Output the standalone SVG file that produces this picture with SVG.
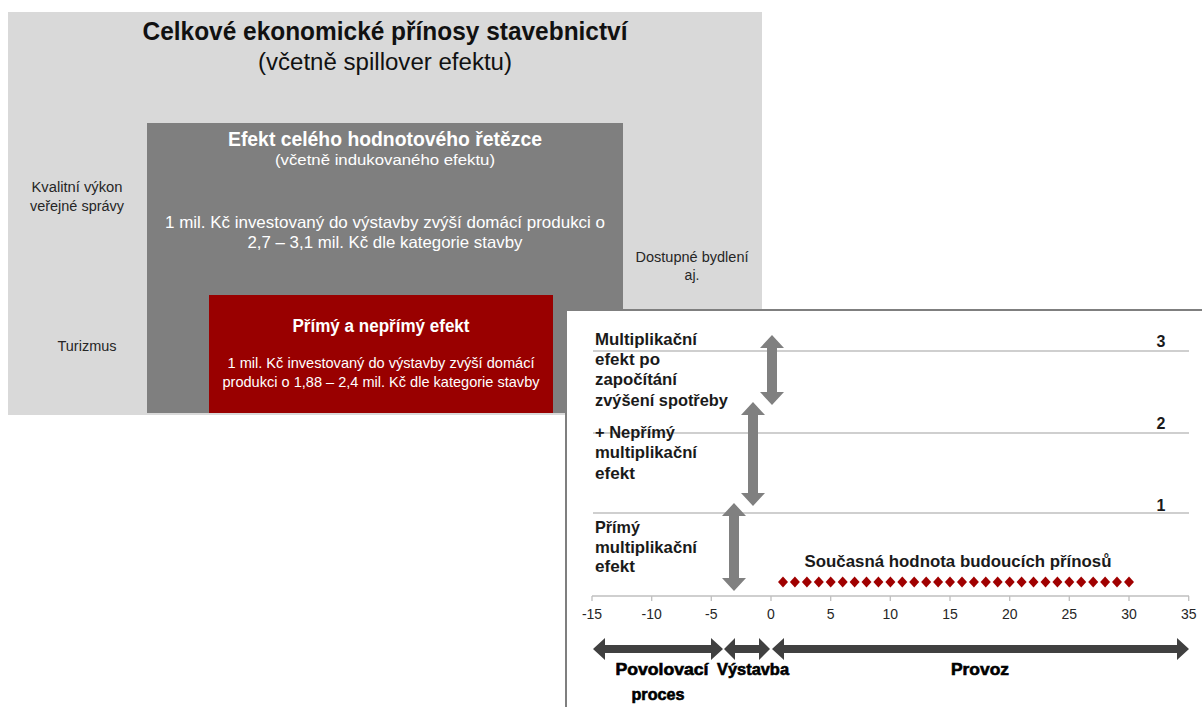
<svg xmlns="http://www.w3.org/2000/svg" width="1202" height="707" viewBox="0 0 1202 707">
<defs>
<style>
text{font-family:"Liberation Sans",Arial,sans-serif}
.dk{fill:#262626}
.wh{fill:#ffffff}
.b{font-weight:bold}
.m{text-anchor:middle}
.lbl{font-size:17px;font-weight:bold;fill:#1a1a1a}
.num{font-size:16px;font-weight:bold;fill:#1a1a1a;text-anchor:middle}
.tick{font-size:14px;fill:#262626;text-anchor:middle}
.grid{stroke:#bfbfbf;stroke-width:1.3}
.varrow{fill:#808080}
.harrow{fill:#404040}
.phase{font-size:16px;font-weight:900;fill:#000;stroke:#000;stroke-width:0.6;text-anchor:middle}
</style>
<path id="dia" d="M0,-5.5 L5,0 L0,5.5 L-5,0 Z" fill="#a00000"/>
</defs>
<rect width="1202" height="707" fill="#ffffff"/>

<g id="outer">
<rect x="8" y="12" width="754" height="403" fill="#d9d9d9"/>
<text x="385" y="40" class="b m" font-size="25" fill="#111" textLength="485" lengthAdjust="spacingAndGlyphs">Celkové ekonomické přínosy stavebnictví</text>
<text x="385" y="70" class="m" font-size="23" fill="#111" textLength="254" lengthAdjust="spacingAndGlyphs">(včetně spillover efektu)</text>
<text x="77" y="192" class="m dk" font-size="14" textLength="91" lengthAdjust="spacingAndGlyphs">Kvalitní výkon</text>
<text x="77" y="211" class="m dk" font-size="14" textLength="94" lengthAdjust="spacingAndGlyphs">veřejné správy</text>
<text x="87" y="351" class="m dk" font-size="14" textLength="59" lengthAdjust="spacingAndGlyphs">Turizmus</text>
<text x="692" y="262" class="m dk" font-size="14" textLength="113" lengthAdjust="spacingAndGlyphs">Dostupné bydlení</text>
<text x="692" y="280" class="m dk" font-size="14">aj.</text>
</g>

<g id="value-chain">
<rect x="147" y="123" width="476" height="290" fill="#7f7f7f"/>
<text x="385" y="146" class="b m wh" font-size="20" textLength="314" lengthAdjust="spacingAndGlyphs">Efekt celého hodnotového řetězce</text>
<text x="385" y="165" class="m wh" font-size="15.5" textLength="220" lengthAdjust="spacingAndGlyphs">(včetně indukovaného efektu)</text>
<text x="385" y="228" class="m wh" font-size="16.5" textLength="440" lengthAdjust="spacingAndGlyphs">1 mil. Kč investovaný do výstavby zvýší domácí produkci o</text>
<text x="385" y="248" class="m wh" font-size="16.5" textLength="275" lengthAdjust="spacingAndGlyphs">2,7 – 3,1 mil. Kč dle kategorie stavby</text>
</g>

<g id="direct">
<rect x="209" y="295" width="344" height="118" fill="#990000"/>
<text x="381" y="332" class="b m wh" font-size="18" textLength="177" lengthAdjust="spacingAndGlyphs">Přímý a nepřímý efekt</text>
<text x="381" y="368" class="m wh" font-size="14.5" textLength="307" lengthAdjust="spacingAndGlyphs">1 mil. Kč investovaný do výstavby zvýší domácí</text>
<text x="381" y="387" class="m wh" font-size="14.5" textLength="317" lengthAdjust="spacingAndGlyphs">produkci o 1,88 – 2,4 mil. Kč dle kategorie stavby</text>
</g>

<g id="chart-panel">
<rect x="566" y="310" width="640" height="400" fill="#ffffff" stroke="#7f7f7f" stroke-width="2"/>
<line class="grid" x1="593" y1="351" x2="1189" y2="351"/>
<line class="grid" x1="593" y1="433" x2="1189" y2="433"/>
<line class="grid" x1="593" y1="513" x2="1189" y2="513"/>
<text x="1161" y="347" class="num">3</text>
<text x="1161" y="429" class="num">2</text>
<text x="1161" y="511" class="num">1</text>
<line x1="592" y1="596" x2="1189" y2="596" stroke="#bfbfbf" stroke-width="1.5"/>
<g stroke="#bfbfbf" stroke-width="1.3">
<line x1="592" y1="596" x2="592" y2="601"/><line x1="651.7" y1="596" x2="651.7" y2="601"/><line x1="711.3" y1="596" x2="711.3" y2="601"/><line x1="771" y1="596" x2="771" y2="601"/><line x1="830.7" y1="596" x2="830.7" y2="601"/><line x1="890.3" y1="596" x2="890.3" y2="601"/><line x1="950" y1="596" x2="950" y2="601"/><line x1="1009.7" y1="596" x2="1009.7" y2="601"/><line x1="1069.3" y1="596" x2="1069.3" y2="601"/><line x1="1129" y1="596" x2="1129" y2="601"/><line x1="1188.7" y1="596" x2="1188.7" y2="601"/>
</g>
<text class="tick" x="592" y="619">-15</text><text class="tick" x="651.7" y="619">-10</text><text class="tick" x="711.3" y="619">-5</text><text class="tick" x="771" y="619">0</text><text class="tick" x="830.7" y="619">5</text><text class="tick" x="890.3" y="619">10</text><text class="tick" x="950" y="619">15</text><text class="tick" x="1009.7" y="619">20</text><text class="tick" x="1069.3" y="619">25</text><text class="tick" x="1129" y="619">30</text><text class="tick" x="1188.7" y="619">35</text>

<text x="595" y="345" class="lbl" textLength="102" lengthAdjust="spacingAndGlyphs">Multiplikační</text>
<text x="595" y="365" class="lbl" textLength="65" lengthAdjust="spacingAndGlyphs">efekt po</text>
<text x="595" y="385" class="lbl" textLength="82" lengthAdjust="spacingAndGlyphs">započítání</text>
<text x="595" y="406" class="lbl" textLength="133" lengthAdjust="spacingAndGlyphs">zvýšení spotřeby</text>
<text x="595" y="438" class="lbl" textLength="80" lengthAdjust="spacingAndGlyphs">+ Nepřímý</text>
<text x="595" y="458" class="lbl" textLength="102" lengthAdjust="spacingAndGlyphs">multiplikační</text>
<text x="595" y="479" class="lbl" textLength="40" lengthAdjust="spacingAndGlyphs">efekt</text>
<text x="595" y="533" class="lbl" textLength="45" lengthAdjust="spacingAndGlyphs">Přímý</text>
<text x="595" y="553" class="lbl" textLength="102" lengthAdjust="spacingAndGlyphs">multiplikační</text>
<text x="595" y="572" class="lbl" textLength="40" lengthAdjust="spacingAndGlyphs">efekt</text>
<text x="958" y="567" class="lbl m" font-size="17" textLength="307" lengthAdjust="spacingAndGlyphs">Současná hodnota budoucích přínosů</text>

<g id="series">
<use href="#dia" x="783" y="582"/><use href="#dia" x="794.9" y="582"/><use href="#dia" x="806.9" y="582"/><use href="#dia" x="818.8" y="582"/><use href="#dia" x="830.7" y="582"/><use href="#dia" x="842.7" y="582"/><use href="#dia" x="854.6" y="582"/><use href="#dia" x="866.5" y="582"/><use href="#dia" x="878.4" y="582"/><use href="#dia" x="890.4" y="582"/><use href="#dia" x="902.3" y="582"/><use href="#dia" x="914.2" y="582"/><use href="#dia" x="926.2" y="582"/><use href="#dia" x="938.1" y="582"/><use href="#dia" x="950" y="582"/><use href="#dia" x="962" y="582"/><use href="#dia" x="973.9" y="582"/><use href="#dia" x="985.8" y="582"/><use href="#dia" x="997.7" y="582"/><use href="#dia" x="1009.7" y="582"/><use href="#dia" x="1021.6" y="582"/><use href="#dia" x="1033.5" y="582"/><use href="#dia" x="1045.5" y="582"/><use href="#dia" x="1057.4" y="582"/><use href="#dia" x="1069.3" y="582"/><use href="#dia" x="1081.2" y="582"/><use href="#dia" x="1093.2" y="582"/><use href="#dia" x="1105.1" y="582"/><use href="#dia" x="1117" y="582"/><use href="#dia" x="1129" y="582"/>
</g>

<text x="662" y="675" class="phase" textLength="93" lengthAdjust="spacingAndGlyphs">Povolovací</text>
<text x="658" y="700" class="phase" textLength="53" lengthAdjust="spacingAndGlyphs">proces</text>
<text x="753" y="675" class="phase" textLength="72" lengthAdjust="spacingAndGlyphs">Výstavba</text>
<text x="980" y="675" class="phase" textLength="58" lengthAdjust="spacingAndGlyphs">Provoz</text>
</g>

<g id="connectors">
<path class="varrow" d="M772,335 L784,348 L777,348 L777,392 L784,392 L772,405 L760,392 L767,392 L767,348 L760,348 Z"/>
<path class="varrow" d="M753,402 L765,415 L758,415 L758,493 L765,493 L753,506 L741,493 L748,493 L748,415 L741,415 Z"/>
<path class="varrow" d="M734,503 L746,516 L739,516 L739,578 L746,578 L734,591 L722,578 L729,578 L729,516 L722,516 Z"/>
<path class="harrow" d="M593,649 L605,638 L605,645 L711,645 L711,638 L723,649 L711,660 L711,653 L605,653 L605,660 Z"/>
<path class="harrow" d="M724,649 L735,638 L735,645 L759,645 L759,638 L770,649 L759,660 L759,653 L735,653 L735,660 Z"/>
<path class="harrow" d="M772,649 L784,638 L784,645 L1177,645 L1177,638 L1189,649 L1177,660 L1177,653 L784,653 L784,660 Z"/>
</g>
</svg>
